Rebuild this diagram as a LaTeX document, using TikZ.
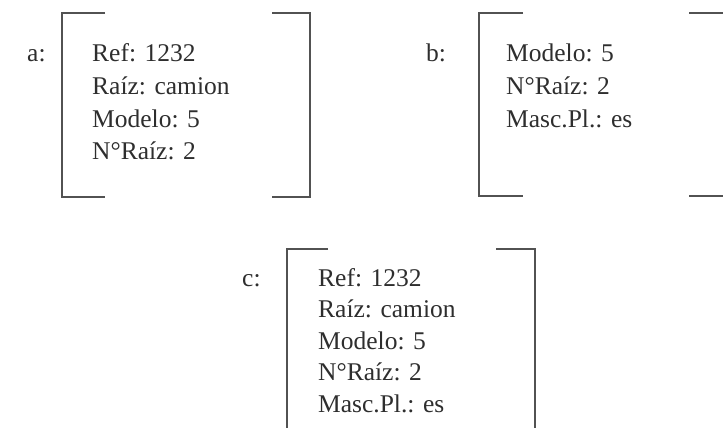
\documentclass[tikz,border=0pt]{standalone}
\usepackage{fontspec}
\setmainfont{Liberation Serif}
\begin{document}
\begin{tikzpicture}[x=1pt,y=-1pt,
  txt/.style={anchor=base west,inner sep=0pt,text=black!82,font=\fontsize{25.5}{30}\selectfont},
  brk/.style={draw=black!68,line width=1.8pt}]
\useasboundingbox (0,0) rectangle (723,428);
\clip (0,0) rectangle (723,428);
% a
\node[txt] (la) at (27,62) {a:};
\node[txt] (a1) at (92,62) {Ref: 1232};
\node[txt] (a2) at (92,94.5) {Raíz: camion};
\node[txt] (a3) at (92,127) {Modelo: 5};
\node[txt] (a4) at (92,159) {N°Raíz: 2};
\draw[brk] (105,13) -- (62,13) -- (62,197) -- (105,197);
\draw[brk] (272,13) -- (310,13) -- (310,197) -- (272,197);
% b
\node[txt] (lb) at (426,62) {b:};
\node[txt] (b1) at (506,62) {Modelo: 5};
\node[txt] (b2) at (506,94.5) {N°Raíz: 2};
\node[txt] (b3) at (506,127) {Masc.Pl.: es};
\draw[brk] (523,13) -- (479,13) -- (479,196) -- (523,196);
\draw[brk] (689,13) -- (730,13) -- (730,196) -- (689,196);
% c
\node[txt] (lc) at (242,286) {c:};
\node[txt] (c1) at (318,286) {Ref: 1232};
\node[txt] (c2) at (318,317.5) {Raíz: camion};
\node[txt] (c3) at (318,349) {Modelo: 5};
\node[txt] (c4) at (318,380.5) {N°Raíz: 2};
\node[txt] (c5) at (318,412) {Masc.Pl.: es};
\draw[brk] (328,249) -- (287,249) -- (287,440);
\draw[brk] (496,249) -- (535,249) -- (535,440);
\end{tikzpicture}
\end{document}
